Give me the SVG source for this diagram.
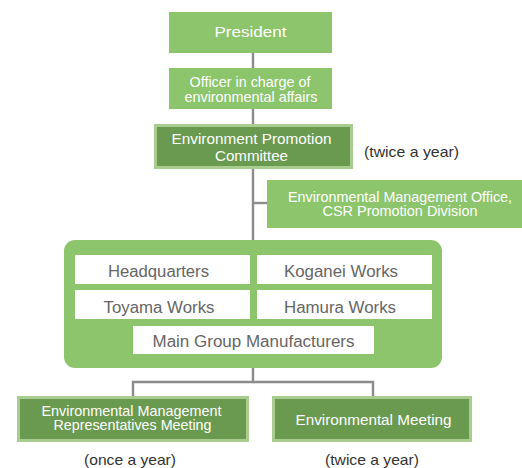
<svg xmlns="http://www.w3.org/2000/svg" width="522" height="468" viewBox="0 0 522 468">
<style>
text{font-family:"Liberation Sans",Arial,sans-serif;text-anchor:middle}
.lg{fill:#8cc56c}
.dg{fill:#6a9a4f;stroke:#a9cc8f;stroke-width:3}
.wb{fill:#ffffff}
.wt{fill:#ffffff;font-size:15.5px}
.w2{fill:#ffffff;font-size:14.5px}
.gt{fill:#666666;font-size:16px}
.nt{fill:#333333;font-size:15px}
.ln{stroke:#8c8c8c;stroke-width:2.4;fill:none}
</style>
<rect width="522" height="468" fill="#ffffff"/>
<g id="connectors">
<line class="ln" x1="253" y1="53" x2="253" y2="240"/>
<line class="ln" x1="253" y1="203" x2="267" y2="203"/>
<polyline class="ln" points="253,368 253,382 133,382 133,396"/>
<polyline class="ln" points="253,382 373,382 373,396"/>
</g>
<g id="president">
<rect class="lg" x="169" y="12" width="163" height="41"/>
<text class="wt" x="250.5" y="37" font-size="16.5" textLength="72" lengthAdjust="spacingAndGlyphs">President</text>
</g>
<g id="officer">
<rect class="lg" x="169" y="68" width="163" height="41"/>
<text class="w2" x="250" y="87" textLength="121" lengthAdjust="spacingAndGlyphs">Officer in charge of</text>
<text class="w2" x="251" y="102" textLength="133" lengthAdjust="spacingAndGlyphs">environmental affairs</text>
</g>
<g id="epc">
<rect class="dg" x="155.5" y="125.5" width="196" height="42"/>
<text class="wt" x="251.5" y="144" textLength="160" lengthAdjust="spacingAndGlyphs">Environment Promotion</text>
<text class="wt" x="251.5" y="161" textLength="73" lengthAdjust="spacingAndGlyphs">Committee</text>
</g>
<text class="nt" x="411.5" y="157" textLength="95" lengthAdjust="spacingAndGlyphs">(twice a year)</text>
<g id="emo">
<rect class="lg" x="267" y="180" width="255" height="48"/>
<text class="w2" x="400" y="201.5" textLength="224" lengthAdjust="spacingAndGlyphs">Environmental Management Office,</text>
<text class="w2" x="400" y="216" textLength="155" lengthAdjust="spacingAndGlyphs">CSR Promotion Division</text>
</g>
<g id="group">
<rect class="lg" x="64" y="240" width="378" height="128" rx="11"/>
<g id="headquarters">
<rect class="wb" x="75" y="255" width="175" height="29"/>
<text class="gt" x="158.5" y="277" textLength="101" lengthAdjust="spacingAndGlyphs">Headquarters</text>
</g>
<g id="koganei">
<rect class="wb" x="257" y="255" width="175" height="29"/>
<text class="gt" x="341" y="277" textLength="114" lengthAdjust="spacingAndGlyphs">Koganei Works</text>
</g>
<g id="toyama">
<rect class="wb" x="75" y="290" width="175" height="29"/>
<text class="gt" x="159" y="312.5" textLength="111" lengthAdjust="spacingAndGlyphs">Toyama Works</text>
</g>
<g id="hamura">
<rect class="wb" x="257" y="290" width="175" height="29"/>
<text class="gt" x="340" y="312.5" textLength="112" lengthAdjust="spacingAndGlyphs">Hamura Works</text>
</g>
<g id="main-group">
<rect class="wb" x="133" y="326" width="241" height="28"/>
<text class="gt" x="253.5" y="347" textLength="202" lengthAdjust="spacingAndGlyphs">Main Group Manufacturers</text>
</g>
</g>
<g id="emr-meeting">
<rect class="dg" x="18.5" y="397.5" width="229" height="43"/>
<text class="w2" x="131.5" y="415.5" textLength="180" lengthAdjust="spacingAndGlyphs">Environmental Management</text>
<text class="w2" x="132.5" y="430" textLength="158" lengthAdjust="spacingAndGlyphs">Representatives Meeting</text>
</g>
<text class="nt" x="130" y="465" textLength="92" lengthAdjust="spacingAndGlyphs">(once a year)</text>
<g id="env-meeting">
<rect class="dg" x="273.5" y="397.5" width="197" height="43"/>
<text class="wt" x="373.5" y="425" textLength="156" lengthAdjust="spacingAndGlyphs">Environmental Meeting</text>
</g>
<text class="nt" x="372" y="465" textLength="94" lengthAdjust="spacingAndGlyphs">(twice a year)</text>
</svg>
